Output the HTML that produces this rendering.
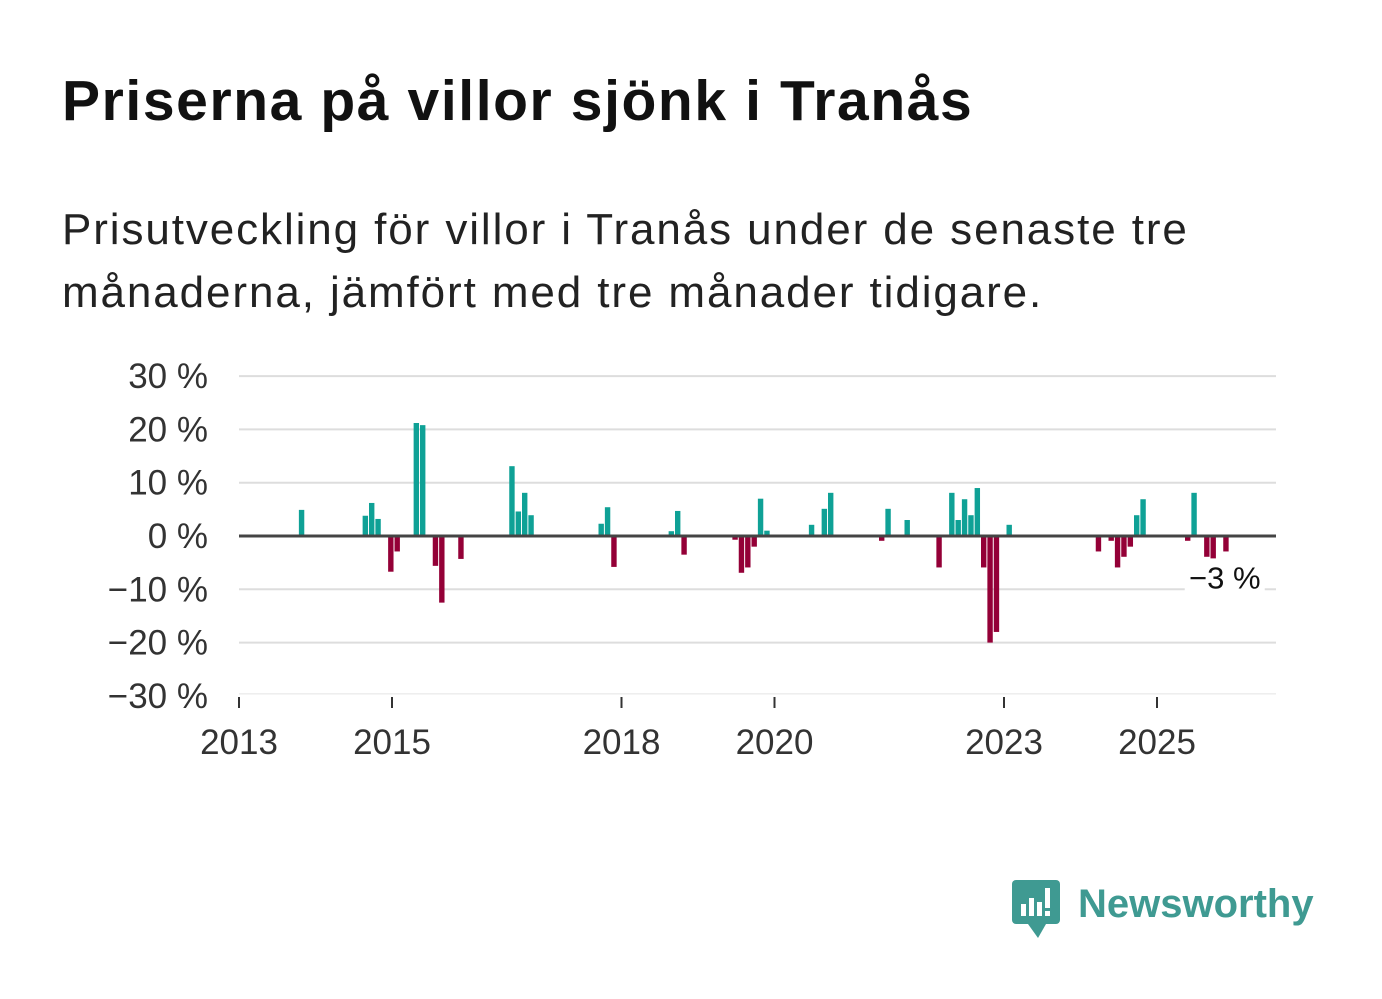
<!DOCTYPE html>
<html><head><meta charset="utf-8"><style>
body{margin:0;background:#fff;width:1382px;height:999px;overflow:hidden;font-family:"Liberation Sans",sans-serif}
h1{position:absolute;left:62px;top:68px;margin:0;font-size:57px;font-weight:bold;color:#111;letter-spacing:1.6px;white-space:nowrap}
p{position:absolute;left:62px;top:198px;margin:0;font-size:44px;line-height:63px;color:#222;width:1240px;letter-spacing:1.9px}
</style></head><body>
<h1>Priserna på villor sjönk i Tranås</h1>
<p>Prisutveckling för villor i Tranås under de senaste tre månaderna, jämfört med tre månader tidigare.</p>
<svg id="chart" width="1382" height="999" style="position:absolute;left:0;top:0"></svg>
<div style="position:absolute;left:1012px;top:880px;display:flex;align-items:center">
<svg width="50" height="60"><rect x="0" y="0" width="48" height="44" rx="4" fill="#3f9a92"/><polygon points="16,44 34,44 26,58" fill="#3f9a92"/><rect x="9" y="24" width="5" height="12" fill="#fff"/><rect x="17" y="18" width="5" height="18" fill="#fff"/><rect x="25" y="22" width="5" height="14" fill="#fff"/><rect x="33" y="8" width="5" height="20" fill="#fff"/><rect x="33" y="31" width="5" height="5" fill="#fff"/></svg>
<span style="font-size:40px;font-weight:bold;color:#3f9a92;margin-left:16px;margin-top:-12px">Newsworthy</span>
</div>
<script>
const months=[9,19,20,21,23,24,27,28,30,31,34,42,43,44,45,56,57,58,67,68,69,77,78,79,80,81,82,89,91,92,100,101,104,109,111,112,113,114,115,116,117,118,120,134,136,137,138,139,140,141,148,149,151,152,154];
const values=[4.9,3.8,6.2,3.2,-6.7,-2.9,21.2,20.8,-5.6,-12.5,-4.3,13.1,4.6,8.1,3.9,2.3,5.4,-5.8,0.9,4.7,-3.5,-0.7,-6.9,-5.9,-2,7,1,2.1,5.1,8.1,-0.9,5.1,3,-5.9,8.1,3,6.9,3.9,9,-5.9,-20,-18,2.1,-2.9,-0.9,-5.9,-3.9,-2,3.9,6.9,-0.9,8.1,-3.9,-4.2,-2.9];
const yTicks=[30,20,10,0,-10,-20,-30];
const yearTicks=[2013,2015,2018,2020,2023,2025];
const lastLabel="−3 %";
const NS="http://www.w3.org/2000/svg";
const svg=document.getElementById('chart');
const X0=239,X1=1276,MW=6.375;
const x=m=>X0+m*MW;
const y=v=>536-v*5.33;
function el(t,a){const e=document.createElementNS(NS,t);for(const k in a)e.setAttribute(k,a[k]);svg.appendChild(e);return e;}
yTicks.forEach(t=>{
 if(t!==0&&t!==-30){const g=el('line',{x1:X0,x2:X1,y1:y(t),y2:y(t),stroke:'#ddd','stroke-width':2});
 
 }
 const l=el('text',{x:208,y:y(t)+12,'text-anchor':'end','font-size':35,fill:'#333','font-family':'Liberation Sans'});
 l.textContent=(t<0?'−'+(-t):t)+' %';
 
 
});
const bl=el('line',{x1:X0,x2:X1,y1:y(-30)-2,y2:y(-30)-2,stroke:'#e4e4e4','stroke-width':1});


yearTicks.forEach(yr=>{
 const xx=x((yr-2013)*12);
 const t=el('line',{x1:xx,x2:xx,y1:697,y2:708,stroke:'#333','stroke-width':2});
 
 
 const l=el('text',{x:xx,y:754,'text-anchor':'middle','font-size':35,fill:'#333','font-family':'Liberation Sans'});
 l.textContent=yr;
 
 
});
months.forEach((m,i)=>{
 const v=values[i];
 const r=el('rect',{x:x(m)+2.5,width:5.4,y:Math.min(y(v),y(0)),height:Math.abs(y(v)-y(0)),fill:v>=0?'#0fa196':'#940037'});
 
 
});
const z=el('line',{x1:X0,x2:X1,y1:y(0),y2:y(0),stroke:'#444','stroke-width':3});


const lm=months[months.length-1],lv=values[values.length-1];
const bg=el('rect',{x:x(lm)-36,y:y(lv)+10,width:80,height:36,fill:'#fff'});


const lt=el('text',{x:x(lm)+4,y:y(lv)+37,'text-anchor':'middle','font-size':31,fill:'#111','font-family':'Liberation Sans'});
lt.textContent=lastLabel;


</script>
</body></html>
